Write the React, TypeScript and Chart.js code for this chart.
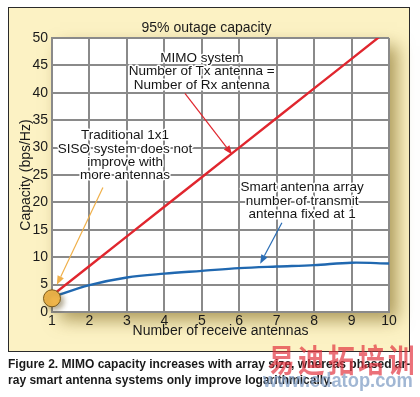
import React, { useEffect, useRef } from "react";
import { Chart, registerables } from "chart.js";

Chart.register(...registerables);

// ---- data ----
const receiveAntennas = [1, 2, 3, 4, 5, 6, 7, 8, 9, 10];
const mimoCapacity = [3, 8.4, 13.8, 19.2, 24.6, 30, 35.4, 40.8, 46.2, 51.6];
const smartAntennaCapacity = [2.7, 4.9, 6.3, 7.0, 7.5, 8.0, 8.3, 8.55, 9.0, 8.85];
const sisoX = [1];
const sisoCapacity = [2.5];
const yTickValues = [0, 5, 10, 15, 20, 25, 30, 35, 40, 45, 50];

const chartTitle = "95% outage capacity";
const xTitle = "Number of receive antennas";
const yTitle = "Capacity (bps/Hz)";

const mimoNote = ["MIMO system", "Number of Tx antenna =", "Number of Rx antenna"];
const sisoNote = ["Traditional 1x1", "SISO system does not", "improve with", "more antennas"];
const smartNote = ["Smart antenna array", "number of transmit", "antenna fixed at 1"];

// annotation anchors in data units
const notes = [
  { lines: mimoNote, x: 5.0, y: 46.3 },
  { lines: sisoNote, x: 2.95, y: 32.2 },
  { lines: smartNote, x: 7.68, y: 22.7 },
];
const arrows = [
  { from: [4.55, 39.9], to: [5.81, 28.75], color: "#e0262e" },
  { from: [2.36, 22.7], to: [1.13, 4.95], color: "#f0b04a" },
  { from: [7.14, 16.3], to: [6.56, 8.8], color: "#2a6db5" },
];

const captionLine1 = "Figure 2. MIMO capacity increases with array size, whereas phased ar-";
const captionLine2 = "ray smart antenna systems only improve logarithmically.";
const watermarkCn = "易迪拓培训";
const watermarkUrl = "www.edatop.com";

const FONT = "'Liberation Sans', Arial, Helvetica, sans-serif";
const GRID = "#8a8a8a";

const decorPlugin = {
  id: "decor",
  beforeDraw(chart: any) {
    const { ctx, chartArea: a } = chart;
    ctx.save();
    ctx.fillStyle = "#fcf2c4";
    ctx.fillRect(a.left - 44, a.top - 31, 402, 345);
    ctx.strokeStyle = "#2a2a2a";
    ctx.lineWidth = 1;
    ctx.strokeRect(a.left - 43.5, a.top - 30.5, 401, 344);
    ctx.shadowColor = "rgba(120,95,20,0.6)";
    ctx.shadowBlur = 16;
    ctx.shadowOffsetX = 8;
    ctx.shadowOffsetY = 8;
    ctx.fillStyle = "#ffffff";
    ctx.fillRect(a.left, a.top, a.right - a.left, a.bottom - a.top);
    ctx.restore();
    ctx.save();
    ctx.fillStyle = "#1a1a1a";
    ctx.font = `14px ${FONT}`;
    ctx.textAlign = "center";
    ctx.textBaseline = "middle";
    ctx.fillText(chartTitle, (a.left + a.right) / 2 - 14, a.top - 10);
    ctx.restore();
  },
  beforeDatasetDraw(chart: any, args: any) {
    if (args.index === 0) {
      const ctx = chart.ctx;
      ctx.save();
      ctx.shadowColor = "rgba(90,70,20,0.45)";
      ctx.shadowBlur = 5;
      ctx.shadowOffsetX = 3;
      ctx.shadowOffsetY = 3;
    }
  },
  afterDatasetDraw(chart: any, args: any) {
    if (args.index === 0) chart.ctx.restore();
  },
  afterDatasetsDraw(chart: any) {
    const { ctx, scales } = chart;
    const xs = scales.x;
    const ys = scales.y;
    ctx.save();
    for (const ar of arrows) {
      const x1 = xs.getPixelForValue(ar.from[0]);
      const y1 = ys.getPixelForValue(ar.from[1]);
      const x2 = xs.getPixelForValue(ar.to[0]);
      const y2 = ys.getPixelForValue(ar.to[1]);
      const ang = Math.atan2(y2 - y1, x2 - x1);
      const len = 9;
      const hw = 3.5;
      const bx = x2 - len * Math.cos(ang);
      const by = y2 - len * Math.sin(ang);
      ctx.strokeStyle = ar.color;
      ctx.fillStyle = ar.color;
      ctx.lineWidth = 1.2;
      ctx.beginPath();
      ctx.moveTo(x1, y1);
      ctx.lineTo(bx, by);
      ctx.stroke();
      ctx.beginPath();
      ctx.moveTo(x2, y2);
      ctx.lineTo(bx + hw * Math.sin(ang), by - hw * Math.cos(ang));
      ctx.lineTo(bx - hw * Math.sin(ang), by + hw * Math.cos(ang));
      ctx.closePath();
      ctx.fill();
    }
    ctx.font = `13.5px ${FONT}`;
    ctx.textAlign = "center";
    ctx.textBaseline = "middle";
    ctx.lineJoin = "round";
    for (const n of notes) {
      const cx = xs.getPixelForValue(n.x);
      const cy = ys.getPixelForValue(n.y);
      n.lines.forEach((t, i) => {
        ctx.strokeStyle = "#ffffff";
        ctx.lineWidth = 3;
        ctx.strokeText(t, cx, cy + i * 13.3);
        ctx.fillStyle = "#151515";
        ctx.fillText(t, cx, cy + i * 13.3);
      });
    }
    ctx.restore();
  },
};

export default function App() {
  const canvasRef = useRef<HTMLCanvasElement | null>(null);
  const cap1 = useRef<HTMLDivElement | null>(null);
  const cap2 = useRef<HTMLDivElement | null>(null);
  const url = useRef<HTMLDivElement | null>(null);
  const cn = useRef<HTMLDivElement | null>(null);

  useEffect(() => {
    const canvas = canvasRef.current!;
    const chart = new Chart(canvas, {
      type: "line",
      data: {
        datasets: [
          {
            label: "SISO",
            data: sisoX.map((x, i) => ({ x, y: sisoCapacity[i] })),
            showLine: false,
            pointRadius: 8.5,
            pointBackgroundColor: "#efb54b",
            pointBorderColor: "#7c5c1c",
            pointBorderWidth: 1,
            clip: false as any,
          },
          {
            label: "MIMO",
            data: receiveAntennas.map((x, i) => ({ x, y: mimoCapacity[i] })),
            borderColor: "#e0262e",
            borderWidth: 2.4,
            pointRadius: 0,
            tension: 0,
          },
          {
            label: "Smart antenna",
            data: receiveAntennas.map((x, i) => ({ x, y: smartAntennaCapacity[i] })),
            borderColor: "#2068b0",
            borderWidth: 2.4,
            pointRadius: 0,
            tension: 0.35,
          },
        ],
      },
      options: {
        animation: false,
        responsive: false,
        layout: { padding: { left: 18, top: 38, right: 31, bottom: 57 } },
        plugins: { legend: { display: false }, tooltip: { enabled: false }, title: { display: false } },
        scales: {
          x: {
            type: "linear",
            min: receiveAntennas[0],
            max: receiveAntennas[receiveAntennas.length - 1],
            afterFit: (s: any) => {
              s.height = 28;
            },
            afterBuildTicks: (s: any) => {
              s.ticks = receiveAntennas.map((v) => ({ value: v }));
            },
            ticks: {
              autoSkip: false,
              maxRotation: 0,
              padding: 1,
              color: "#1a1a1a",
              font: { family: FONT, size: 14 },
              callback: (v: any) => String(v),
            },
            grid: { color: GRID, lineWidth: 2, drawTicks: false },
            border: { color: GRID, width: 2 },
            title: {
              display: true,
              text: xTitle,
              color: "#1a1a1a",
              font: { family: FONT, size: 14 },
              padding: 0,
            },
          },
          y: {
            min: yTickValues[0],
            max: yTickValues[yTickValues.length - 1],
            afterFit: (s: any) => {
              s.width = 34;
            },
            afterBuildTicks: (s: any) => {
              s.ticks = yTickValues.map((v) => ({ value: v }));
            },
            ticks: {
              padding: 4,
              color: "#1a1a1a",
              font: { family: FONT, size: 14 },
              callback: (v: any) => String(v),
            },
            grid: { color: GRID, lineWidth: 2, drawTicks: false },
            border: { color: GRID, width: 2 },
            title: {
              display: true,
              text: yTitle,
              color: "#1a1a1a",
              font: { family: FONT, size: 14 },
              padding: 0,
            },
          },
        },
      },
      plugins: [decorPlugin],
    });

    const fit = (el: HTMLDivElement | null, target: number) => {
      if (!el) return 1;
      const w = el.scrollWidth;
      return w > 0 ? target / w : 1;
    };
    const s1 = fit(cap1.current, 402);
    if (cap1.current) cap1.current.style.transform = `scaleX(${s1})`;
    if (cap2.current) cap2.current.style.transform = `scaleX(${s1})`;
    const s3 = fit(url.current, 150);
    if (url.current) url.current.style.transform = `scaleX(${s3})`;
    const s4 = fit(cn.current, 150);
    if (cn.current) cn.current.style.transform = `scaleX(${s4})`;

    return () => chart.destroy();
  }, []);

  const capStyle: React.CSSProperties = {
    position: "absolute",
    left: 8,
    whiteSpace: "nowrap",
    font: `bold 13px ${FONT}`,
    color: "#1a1a1a",
    lineHeight: "16px",
    transformOrigin: "0 0",
    display: "inline-block",
  };

  return (
    <div style={{ position: "absolute", left: 0, top: 0, width: 420, height: 397, overflow: "hidden", background: "#fff" }}>
      <canvas ref={canvasRef} width={420} height={397} style={{ width: 420, height: 397, display: "block" }} />
      <div ref={cap1} style={{ ...capStyle, top: 356 }}>{captionLine1}</div>
      <div ref={cap2} style={{ ...capStyle, top: 372 }}>{captionLine2}</div>
      <div
        ref={cn}
        style={{
          position: "absolute",
          left: 268,
          top: 336,
          whiteSpace: "nowrap",
          fontFamily: "'Noto Sans CJK SC', sans-serif",
          fontWeight: 700,
          fontSize: 32,
          letterSpacing: 4,
          lineHeight: "44px",
          color: "rgba(226,52,64,0.7)",
          transformOrigin: "0 0",
          display: "inline-block",
        }}
      >
        {watermarkCn}
      </div>
      <div
        ref={url}
        style={{
          position: "absolute",
          left: 263,
          top: 368,
          whiteSpace: "nowrap",
          fontFamily: FONT,
          fontWeight: 700,
          fontSize: 20,
          lineHeight: "24px",
          color: "rgba(125,155,195,0.72)",
          transformOrigin: "0 0",
          display: "inline-block",
        }}
      >
        {watermarkUrl}
      </div>
    </div>
  );
}
